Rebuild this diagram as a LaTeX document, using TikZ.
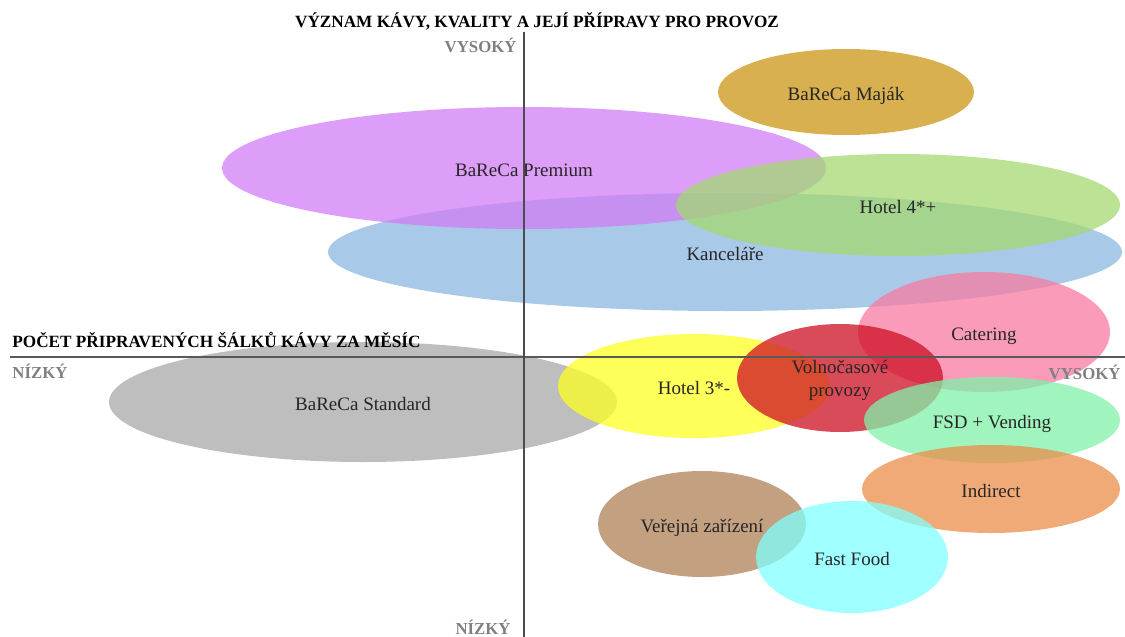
\documentclass[tikz,border=0pt]{standalone}
\usepackage{fontspec}
\setmainfont{Liberation Serif}
\usetikzlibrary{shapes.geometric}
\definecolor{kancColor}{RGB}{140,183,224}
\definecolor{premColor}{RGB}{208,126,245}
\definecolor{majakColor}{RGB}{204,150,22}
\definecolor{hotelAColor}{RGB}{164,216,114}
\definecolor{standColor}{RGB}{168,168,168}
\definecolor{hotelBColor}{RGB}{255,255,35}
\definecolor{cateColor}{RGB}{247,122,162}
\definecolor{volnoColor}{RGB}{206,15,35}
\definecolor{fsdColor}{RGB}{128,241,168}
\definecolor{indColor}{RGB}{235,142,75}
\definecolor{verejColor}{RGB}{174,128,85}
\definecolor{fastColor}{RGB}{128,255,255}

\begin{document}
\begin{tikzpicture}[x=0.5pt,y=-0.5pt,
    oval/.style={ellipse, inner sep=0pt, fill opacity=0.75, text opacity=1,
        text=black!85, font=\fontsize{9.5}{11.5}\selectfont,
        text height=1.05em, text depth=0.25em},
    axislab/.style={text=black!50, font=\bfseries\fontsize{8.4}{10}\selectfont},
    axistitle/.style={text=black, font=\bfseries\fontsize{8.6}{10}\selectfont}]
    \useasboundingbox (0,0) rectangle (1125,637);
    % upper half
    \node[oval, fill=kancColor, minimum width=397pt, minimum height=59pt] (kancelare) at (725,252) {Kanceláře};
    \node[oval, fill=premColor, minimum width=302pt, minimum height=61pt] (premium) at (524,168) {BaReCa Premium};
    \node[oval, fill=majakColor, minimum width=128pt, minimum height=43pt] (majak) at (846,92) {BaReCa Maják};
    \node[oval, fill=hotelAColor, minimum width=222pt, minimum height=51pt] (hotelA) at (898,205) {Hotel 4*+};
    % lower half
    \node[oval, fill=standColor, minimum width=254pt, minimum height=60pt] (standard) at (363,402) {BaReCa Standard};
    \node[oval, fill=hotelBColor, minimum width=136pt, minimum height=52pt] (hotelB) at (694,386) {Hotel 3*-};
    \node[oval, fill=cateColor, minimum width=126pt, minimum height=60pt] (catering) at (984,332) {Catering};
    \node[oval, fill=volnoColor, minimum width=103pt, minimum height=54pt, align=center, text height=2.1em] (volno) at (840,378) {Volnočasové\\provozy};
    \node[oval, fill=fsdColor, minimum width=128pt, minimum height=43pt] (fsd) at (992,420) {FSD + Vending};
    \node[oval, fill=indColor, minimum width=129pt, minimum height=44pt] (indirect) at (991,489) {Indirect};
    \node[oval, fill=verejColor, minimum width=104pt, minimum height=53pt] (verejna) at (702,524) {Veřejná zařízení};
    \node[oval, fill=fastColor, minimum width=96pt, minimum height=56pt] (fastfood) at (852,557) {Fast Food};
    % axes
    \coordinate (xleft) at (10,357);
    \coordinate (xright) at (1125,357);
    \coordinate (ytop) at (524,32);
    \coordinate (ybottom) at (524,637);
    \draw [black!65, line width=0.6pt] (xleft) -- (xright);
    \draw [black!70, line width=0.6pt] (ytop) -- (ybottom);
    \node[axistitle, anchor=base] (ytitle) at (537,27) {VÝZNAM KÁVY, KVALITY A JEJÍ PŘÍPRAVY PRO PROVOZ};
    \node[axistitle, anchor=base west, inner sep=0pt] (xtitle) at (12,347) {POČET PŘIPRAVENÝCH ŠÁLKŮ KÁVY ZA MĚSÍC};
    \node[axislab, anchor=base east, inner sep=0pt] (yhigh) at (517,52) {VYSOKÝ};
    \node[axislab, anchor=base east, inner sep=0pt] (ylow) at (511,634) {NÍZKÝ};
    \node[axislab, anchor=base west, inner sep=0pt] (xlow) at (12,378) {NÍZKÝ};
    \node[axislab, anchor=base east, inner sep=0pt] (xhigh) at (1121,379) {VYSOKÝ};
\end{tikzpicture}
\end{document}
